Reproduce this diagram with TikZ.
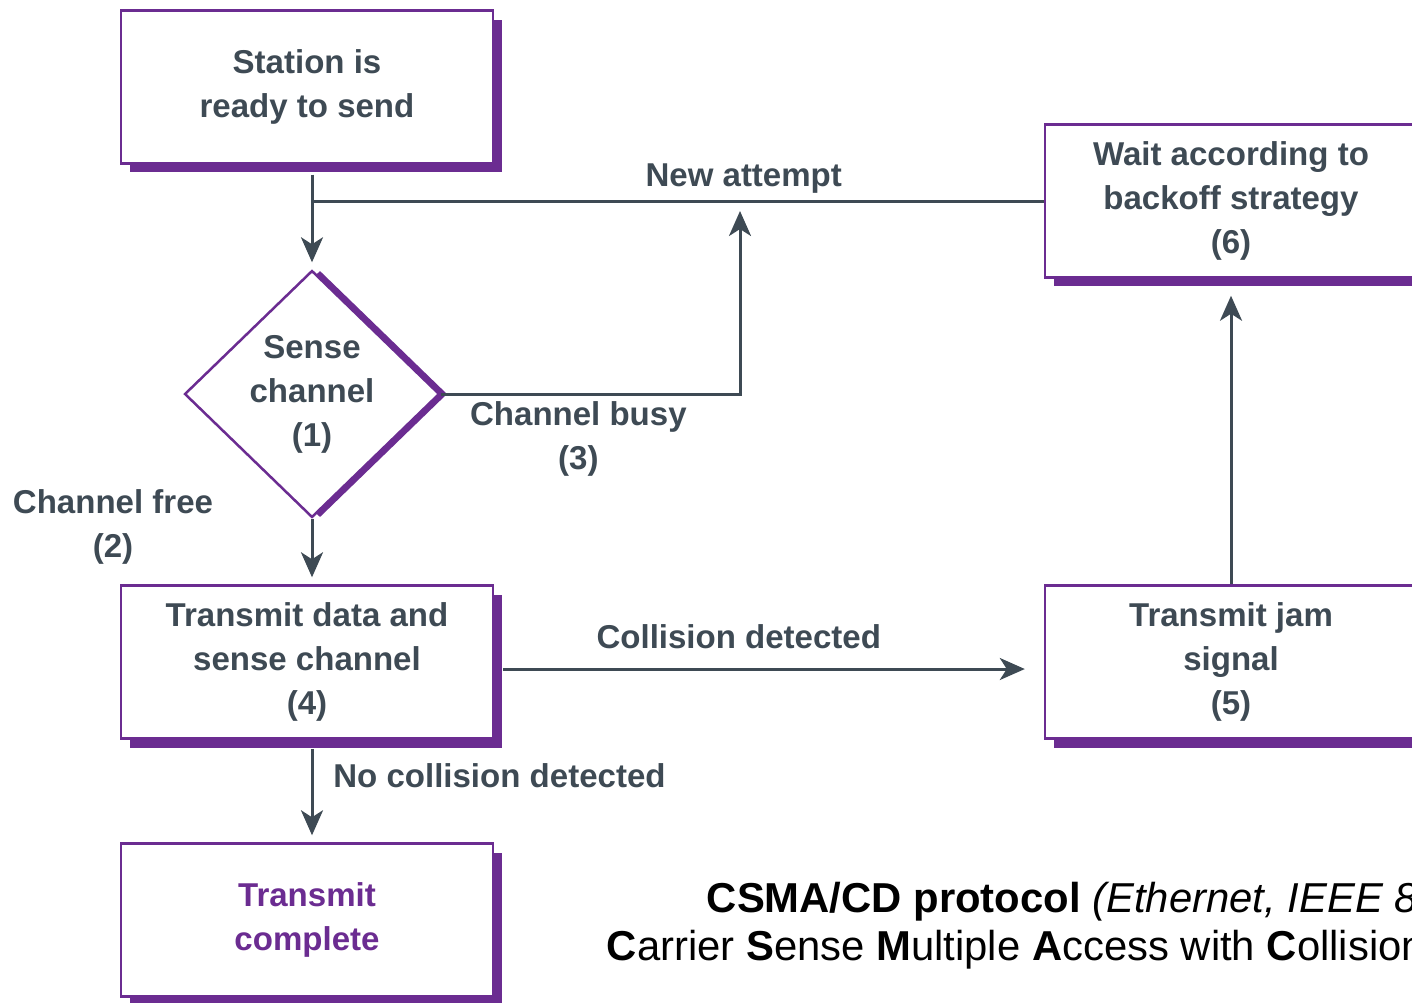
\documentclass[tikz,border=0pt]{standalone}
\usepackage{fontspec}
\setmainfont{Liberation Sans}
\usepackage{tikz}
\usetikzlibrary{calc,arrows.meta,positioning,shapes.geometric,shadows}
\definecolor{csma-purple}{HTML}{6B2C91}
\definecolor{csma-slate}{HTML}{3E4A54}

\begin{document}
\begin{tikzpicture}[x=0.02cm, y=-0.02cm,
    procbox/.style={draw=csma-purple, line width=0.05cm, fill=white, minimum width=7.44cm, minimum height=3.06cm, align=center, text=csma-slate, font=\fontsize{18.8}{25}\selectfont\bfseries, drop shadow={fill=csma-purple, opacity=1, shadow xshift=0.18cm, shadow yshift=-0.18cm}},
    decide/.style={diamond, draw=csma-purple, line width=0.05cm, fill=white, inner sep=0pt, minimum width=5.1cm, minimum height=4.94cm, align=center, text=csma-slate, font=\fontsize{18.8}{25}\selectfont\bfseries, drop shadow={fill=csma-purple, opacity=1, shadow xshift=0.16cm, shadow yshift=0cm}},
    flow/.style={draw=csma-slate, line width=0.06cm, -{Stealth[length=0.5cm, width=0.44cm, inset=0.14cm]}},
    link/.style={draw=csma-slate, line width=0.06cm},
    lbl/.style={text=csma-slate, align=center, font=\fontsize{18.8}{25}\selectfont\bfseries}]
    \path[use as bounding box, fill=white] (0,0) rectangle (1412,1002);
    \clip (0,0) rectangle (1412,1002);

    \node[procbox] (start) at (307,87) {Station is\\ready to send};
    \node[decide] (sense) at (312,394) {Sense\\channel\\(1)};
    \node[procbox] (xmit) at (307,662) {Transmit data and\\sense channel\\(4)};
    \node[procbox, text=csma-purple] (done) at (307,920) {Transmit\\complete};
    \node[procbox] (wait) at (1231,201) {Wait according to\\backoff strategy\\(6)};
    \node[procbox] (jam) at (1231,662) {Transmit jam\\signal\\(5)};
    \coordinate (merge) at (740,201);

    \draw[flow, shorten <=0.2cm, shorten >=0.14cm] (start.south -| sense.north) -- (sense.north);
    \draw[link] (wait.west) -- node[lbl, above, pos=0.41] (again) {New attempt} (wait.west -| sense.north);
    \draw[flow, shorten >=0.2cm] (sense.east) -| node[lbl, below, pos=0.23] (busy) {Channel busy\\(3)} (merge);
    \draw[flow, shorten >=0.14cm] (sense.south) -- (sense.south |- xmit.north);
    \node[lbl] (free) at (113,527) {Channel free\\(2)};
    \draw[flow, shorten <=0.18cm, shorten >=0.38cm] ($(xmit.east)+(0,7)$) -- node[lbl, above, pos=0.445, yshift=0.26cm] (hit) {Collision detected} ($(jam.west)+(0,7)$);
    \draw[flow, shorten >=0.34cm] (jam.north) -- (wait.south);
    \draw[flow, shorten <=0.18cm, shorten >=0.14cm] (xmit.south -| sense.south) -- node[lbl, right, pos=0.35, xshift=0.28cm] (clear) {No collision detected} (done.north -| sense.south);

    \node[align=center, font=\fontsize{23.8}{27.2}\selectfont] (title) at (1110,926) {\textbf{CSMA/CD protocol} \textit{(Ethernet, IEEE 802.3)}\\\textbf{C}arrier \textbf{S}ense \textbf{M}ultiple \textbf{A}ccess with \textbf{C}ollision \textbf{D}etection};
\end{tikzpicture}
\end{document}
